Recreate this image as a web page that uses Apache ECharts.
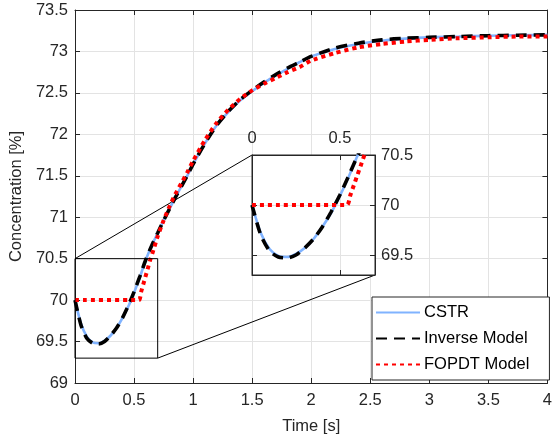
<!DOCTYPE html>
<html><head><meta charset="utf-8">
<script src="https://cdn.jsdelivr.net/npm/echarts@6/dist/echarts.min.js"></script>
<style>html,body{margin:0;padding:0;background:#fff}#c{width:555px;height:440px}</style>
</head><body><div id="c"></div>
<script>
// ---- data ----
const time = [0,0.05,0.1,0.15,0.2,0.25,0.3,0.35,0.4,0.45,0.5,0.55,0.6,0.65,0.7,0.75,0.8,0.85,0.9,0.95,1.0,1.1,1.2,1.3,1.4,1.5,1.6,1.7,1.8,1.9,2.0,2.2,2.4,2.6,2.8,3.0,3.25,3.5,3.75,4.0];
const cstr = [70.00,69.72,69.56,69.49,69.48,69.51,69.57,69.66,69.78,69.92,70.09,70.28,70.49,70.66,70.81,70.96,71.10,71.24,71.37,71.50,71.64,71.89,72.11,72.27,72.41,72.52,72.62,72.71,72.79,72.87,72.94,73.03,73.09,73.13,73.155,73.17,73.18,73.19,73.195,73.20];
const inverseModel = [70.00,69.70,69.54,69.48,69.47,69.50,69.57,69.66,69.78,69.93,70.10,70.29,70.49,70.66,70.81,70.96,71.10,71.24,71.37,71.50,71.64,71.89,72.11,72.28,72.42,72.53,72.63,72.72,72.80,72.87,72.94,73.04,73.10,73.14,73.16,73.17,73.18,73.19,73.195,73.20];
const fopdtTime = [0,0.54,0.56,0.58,0.6,0.62,0.64,0.67,0.7,0.75,0.8,0.85,0.9,0.95,1.0,1.1,1.2,1.3,1.4,1.5,1.6,1.7,1.8,1.9,2.0,2.2,2.4,2.6,2.8,3.0,3.25,3.5,3.75,4.0];
const fopdt = [70,70,70.1,70.2,70.3,70.4,70.5,70.63,70.77,70.96,71.13,71.28,71.41,71.54,71.68,71.93,72.14,72.30,72.43,72.53,72.61,72.68,72.75,72.81,72.89,72.98,73.05,73.09,73.12,73.14,73.16,73.17,73.18,73.18];
const zoomX = [0, 0.7];
const zoomY = [69.3, 70.5];
const insetXTicks = [0, 0.5];
const insetYTicks = [69.5, 70, 70.5];
const seriesNames = ['CSTR', 'Inverse Model', 'FOPDT Model'];

function pairs(xs, ys) { return xs.map((x, i) => [x, ys[i]]); }

const FONT = 'Liberation Sans, Arial, Helvetica, sans-serif';
const AX = '#262626';
const FS = 16.5;

const chart = echarts.init(document.getElementById('c'), null, {renderer: 'canvas'});

function mainSeries(xi, yi, z) {
  return [
    {name: seriesNames[0], type: 'line', xAxisIndex: xi, yAxisIndex: yi, z: z, symbol: 'none', smooth: 0.25,
     data: pairs(time, cstr), lineStyle: {color: '#80b3ff', width: 2.6}, itemStyle: {color: '#80b3ff'}},
    {name: seriesNames[1], type: 'line', xAxisIndex: xi, yAxisIndex: yi, z: z, symbol: 'none', smooth: 0.25,
     data: pairs(time, inverseModel), lineStyle: {color: '#000', width: 3.6, type: [11, 7]}, itemStyle: {color: '#000'}},
    {name: seriesNames[2], type: 'line', xAxisIndex: xi, yAxisIndex: yi, z: z, symbol: 'none', smooth: 0.2,
     data: pairs(fopdtTime, fopdt), lineStyle: {color: '#ff0000', width: 4, type: [4, 4]}, itemStyle: {color: '#ff0000'}}
  ];
}

const tickIn = {show: true, inside: true, length: 5, lineStyle: {color: AX}};
const lineAx = {show: true, onZero: false, lineStyle: {color: AX, width: 1}};
const lbl = {color: AX, fontSize: FS, fontFamily: FONT};
const split = {show: true, lineStyle: {color: '#e3e3e3', width: 1}};

const option = {
  animation: false,
  backgroundColor: '#fff',
  textStyle: {fontFamily: FONT},
  grid: [
    {left: 73, top: 10, width: 479, height: 373, show: false},
    {left: 252, top: 155, width: 123, height: 120, show: true, backgroundColor: '#fff', borderColor: AX, borderWidth: 1, z: 3}
  ],
  legend: {
    data: seriesNames, orient: 'vertical', left: 372, top: 297,
    padding: [7, 20, 7, 3], itemWidth: 44, itemHeight: 14, itemGap: 9,
    backgroundColor: '#fff', borderColor: AX, borderWidth: 1, borderRadius: 0,
    itemStyle: {opacity: 0, borderWidth: 0},
    textStyle: {color: '#000', fontSize: FS, fontFamily: FONT, padding: [0, 0, 0, -1]}, z: 10
  },
  xAxis: [
    {gridIndex: 0, type: 'value', min: 0, max: 4, interval: 0.5, position: 'bottom',
     axisLine: lineAx, axisTick: tickIn, axisLabel: Object.assign({margin: 9}, lbl), splitLine: split,
     name: 'Time [s]', nameLocation: 'middle', nameGap: 35, nameTextStyle: {color: AX, fontSize: FS, fontFamily: FONT}},
    {gridIndex: 0, type: 'value', min: 0, max: 4, interval: 0.5, position: 'top',
     axisLine: lineAx, axisTick: tickIn, axisLabel: {show: false}, splitLine: {show: false}},
    {gridIndex: 1, type: 'value', min: zoomX[0], max: zoomX[1], position: 'top', z: 4,
     axisLine: lineAx, axisTick: Object.assign({customValues: insetXTicks}, tickIn),
     axisLabel: Object.assign({margin: 8, customValues: insetXTicks}, lbl),
     splitLine: {show: true, lineStyle: {color: '#e3e3e3'}}},
    {gridIndex: 1, type: 'value', min: zoomX[0], max: zoomX[1], position: 'bottom', z: 4,
     axisLine: lineAx, axisTick: Object.assign({customValues: insetXTicks}, tickIn),
     axisLabel: {show: false, customValues: insetXTicks}, splitLine: {show: false}}
  ],
  yAxis: [
    {gridIndex: 0, type: 'value', min: 69, max: 73.5, interval: 0.5, position: 'left',
     axisLine: lineAx, axisTick: tickIn, axisLabel: Object.assign({margin: 7}, lbl), splitLine: split,
     name: 'Concentration [%]', nameLocation: 'middle', nameGap: 47, nameTextStyle: {color: AX, fontSize: FS, fontFamily: FONT}},
    {gridIndex: 0, type: 'value', min: 69, max: 73.5, interval: 0.5, position: 'right',
     axisLine: lineAx, axisTick: tickIn, axisLabel: {show: false}, splitLine: {show: false}},
    {gridIndex: 1, type: 'value', min: zoomY[0], max: zoomY[1], position: 'right', z: 4,
     axisLine: lineAx, axisTick: Object.assign({customValues: insetYTicks}, tickIn),
     axisLabel: Object.assign({margin: 6, customValues: insetYTicks}, lbl),
     splitLine: {show: true, lineStyle: {color: '#e3e3e3'}}},
    {gridIndex: 1, type: 'value', min: zoomY[0], max: zoomY[1], position: 'left', z: 4,
     axisLine: lineAx, axisTick: Object.assign({customValues: insetYTicks}, tickIn),
     axisLabel: {show: false, customValues: insetYTicks}, splitLine: {show: false}}
  ],
  series: mainSeries(0, 0, 2).concat(mainSeries(2, 2, 5))
};
chart.setOption(option);

// zoom rectangle and connector lines, positioned through the axes
const p1 = chart.convertToPixel({xAxisIndex: 0, yAxisIndex: 0}, [zoomX[0], zoomY[1]]);
const p2 = chart.convertToPixel({xAxisIndex: 0, yAxisIndex: 0}, [zoomX[1], zoomY[0]]);
const q1 = chart.convertToPixel({xAxisIndex: 2, yAxisIndex: 2}, [zoomX[0], zoomY[1]]);
const q2 = chart.convertToPixel({xAxisIndex: 2, yAxisIndex: 2}, [zoomX[1], zoomY[0]]);
chart.setOption({
  graphic: [
    {type: 'rect', z: 3, shape: {x: p1[0], y: p1[1], width: p2[0] - p1[0], height: p2[1] - p1[1]},
     style: {fill: 'none', stroke: '#000', lineWidth: 1}, silent: true},
    {type: 'line', z: 1, shape: {x1: p1[0], y1: p1[1], x2: q1[0], y2: q1[1]}, style: {stroke: '#000', lineWidth: 1}, silent: true},
    {type: 'line', z: 1, shape: {x1: p2[0], y1: p2[1], x2: q2[0], y2: q2[1]}, style: {stroke: '#000', lineWidth: 1}, silent: true}
  ]
});
</script></body></html>
